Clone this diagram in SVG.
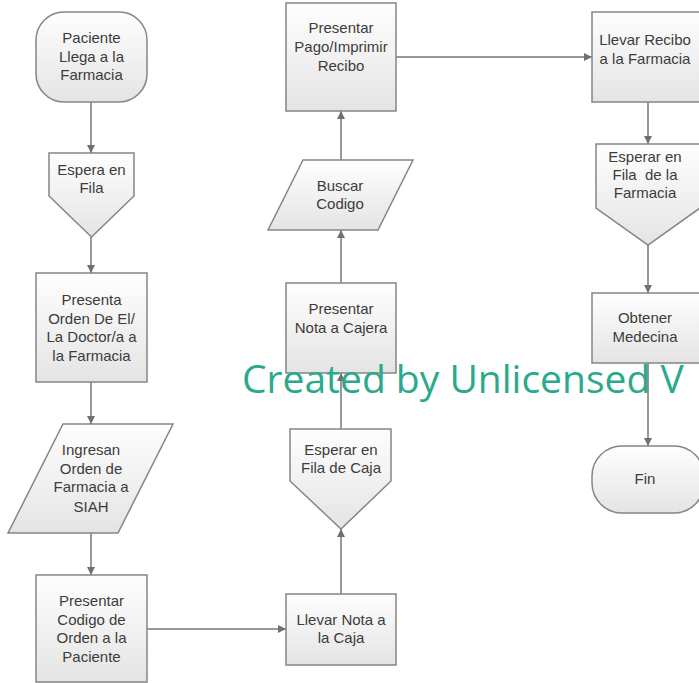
<svg xmlns="http://www.w3.org/2000/svg" width="699" height="683" viewBox="0 0 699 683">
<defs>
<linearGradient id="g" x1="0" y1="0" x2="0" y2="1">
<stop offset="0" stop-color="#fefefe"/>
<stop offset="1" stop-color="#e4e4e4"/>
</linearGradient>
<marker id="arr" markerUnits="userSpaceOnUse" markerWidth="10" markerHeight="10" refX="8" refY="4" orient="auto">
<path d="M0,0 L8,4 L0,8 z" fill="#707070"/>
</marker>
<style>
.n{fill:url(#g);stroke:#858585;stroke-width:1.5}
.t{font-family:"Liberation Sans",Arial,sans-serif;font-size:15px;fill:#3c3c3c;text-anchor:middle}
.c{fill:none;stroke:#777;stroke-width:1.5;marker-end:url(#arr)}
.w{font-family:"Open Sans","Noto Sans",sans-serif;font-size:39px;fill:#2aaa8a}
</style>
</defs>
<rect width="699" height="683" fill="#fff"/>
<g id="connectors">
<line class="c" x1="91" y1="102" x2="91" y2="153"/>
<line class="c" x1="91" y1="237" x2="91" y2="273"/>
<line class="c" x1="91" y1="382" x2="91" y2="424"/>
<line class="c" x1="91" y1="533" x2="91" y2="575"/>
<line class="c" x1="147" y1="629" x2="286" y2="629"/>
<line class="c" x1="341" y1="594" x2="341" y2="529"/>
<line class="c" x1="341" y1="429" x2="341" y2="373"/>
<line class="c" x1="341" y1="283" x2="341" y2="230"/>
<line class="c" x1="341" y1="160" x2="341" y2="111"/>
<line class="c" x1="396" y1="57" x2="592" y2="57"/>
<line class="c" x1="648" y1="102" x2="648" y2="144"/>
<line class="c" x1="648" y1="245" x2="648" y2="293"/>
<line class="c" x1="648" y1="363" x2="648" y2="446"/>
</g>
<g id="n1"><rect class="n" x="36" y="12" width="111" height="90" rx="28"/>
<text class="t" x="91.5" y="43">Paciente</text><text class="t" x="91.5" y="62">Llega a la</text><text class="t" x="91.5" y="80">Farmacia</text></g>
<g id="n2"><polygon class="n" points="49,153 134,153 134,196 91.5,237 49,196"/>
<text class="t" x="91.5" y="175">Espera en</text><text class="t" x="91.5" y="193">Fila</text></g>
<g id="n3"><rect class="n" x="36" y="273" width="111" height="109"/>
<text class="t" x="91.5" y="305">Presenta</text><text class="t" x="91.5" y="324">Orden De El/</text><text class="t" x="91.5" y="342">La Doctor/a a</text><text class="t" x="91.5" y="361">la Farmacia</text></g>
<g id="n4"><polygon class="n" points="63,424 173,424 118,533 8,533"/>
<text class="t" x="91" y="455">Ingresan</text><text class="t" x="91" y="474">Orden de</text><text class="t" x="91" y="492">Farmacia a</text><text class="t" x="91" y="512">SIAH</text></g>
<g id="n5"><rect class="n" x="36" y="575" width="111" height="107"/>
<text class="t" x="91.5" y="606">Presentar</text><text class="t" x="91.5" y="625">Codigo de</text><text class="t" x="91.5" y="643">Orden a la</text><text class="t" x="91.5" y="662">Paciente</text></g>
<g id="n6"><rect class="n" x="286" y="594" width="110" height="71"/>
<text class="t" x="341" y="625">Llevar Nota a</text><text class="t" x="341" y="643">la Caja</text></g>
<g id="n7"><polygon class="n" points="290,429 391,429 391,481 341,529 290,481"/>
<text class="t" x="341" y="455">Esperar en</text><text class="t" x="341" y="473">Fila de Caja</text></g>
<g id="n8"><rect class="n" x="286" y="283" width="110" height="90"/>
<text class="t" x="341" y="314">Presentar</text><text class="t" x="341" y="333">Nota a Cajera</text></g>
<g id="n9"><polygon class="n" points="303,160 413,160 378,230 268,230"/>
<text class="t" x="340" y="191">Buscar</text><text class="t" x="340" y="209">Codigo</text></g>
<g id="n10"><rect class="n" x="286" y="3" width="110" height="108"/>
<text class="t" x="341" y="33">Presentar</text><text class="t" x="341" y="52">Pago/Imprimir</text><text class="t" x="341" y="71">Recibo</text></g>
<g id="n11"><rect class="n" x="592" y="12" width="112" height="90"/>
<text class="t" x="645" y="45">Llevar Recibo</text><text class="t" x="645" y="64">a la Farmacia</text></g>
<g id="n12"><polygon class="n" points="596,144 700,144 700,208 648,245 596,208"/>
<text class="t" x="645" y="162">Esperar en</text><text class="t" x="645" y="180" xml:space="preserve">Fila  de la</text><text class="t" x="645" y="198">Farmacia</text></g>
<g id="n13"><rect class="n" x="592" y="293" width="112" height="70"/>
<text class="t" x="645" y="323">Obtener</text><text class="t" x="645" y="342">Medecina</text></g>
<g id="n14"><rect class="n" x="592" y="446" width="112" height="67" rx="30"/>
<text class="t" x="645" y="484">Fin</text></g>
<text class="w" x="242" y="393">Created by Unlicensed V</text>
</svg>
